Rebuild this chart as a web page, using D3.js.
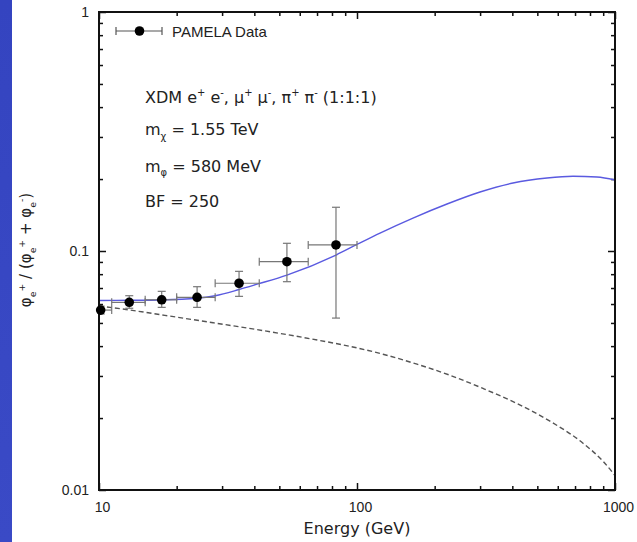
<!DOCTYPE html>
<html>
<head>
<meta charset="utf-8">
<script src="https://cdn.jsdelivr.net/npm/d3@7"></script>
<style>
  html, body { margin: 0; padding: 0; background: #ffffff; }
  svg { display: block; }
  .tick text { font-family: "Liberation Sans", Arial, sans-serif; font-size: 14px; fill: #222; }
  .note { font-family: "DejaVu Sans", Verdana, sans-serif; font-size: 16px; fill: #222; }
  .legend { font-family: "Liberation Sans", Arial, sans-serif; font-size: 15px; fill: #222; }
</style>
</head>
<body>
<div id="chart"></div>
<script>
// PAMELA positron fraction measurements
const energy   = [10.15, 13.1, 17.5, 24.0, 34.9, 53.5, 82.9];
const ratio    = [0.0566, 0.0610, 0.0625, 0.0640, 0.0733, 0.0902, 0.106];
const energyLo = [9.1, 11.2, 15.1, 20.0, 28.2, 41.8, 64.7];
const energyHi = [11.2, 15.1, 20.0, 28.2, 41.8, 64.7, 100];
const ratioLo  = [0.0545, 0.0576, 0.0581, 0.0581, 0.0646, 0.0744, 0.0524];
const ratioHi  = [0.0588, 0.0650, 0.0678, 0.0709, 0.0822, 0.1077, 0.1524];

// XDM model: background + annihilation signal (solid)
const modelEnergy = [10, 13.2, 17.4, 24.0, 28.2, 34.9, 41.3, 53.5, 82.9, 100.8, 122.8, 164.8, 223.3, 299.8, 402.4, 545, 687.6, 851.5, 1000];
const modelRatio  = [0.0621, 0.0622, 0.0624, 0.0634, 0.0650, 0.0690, 0.0728, 0.0793, 0.0962, 0.1070, 0.1189, 0.1374, 0.1573, 0.1766, 0.1925, 0.2020, 0.2054, 0.2040, 0.1982];

// Secondary background only (dashed)
const bgEnergy = [10, 13.2, 18.0, 27.7, 50.3, 71.9, 93.9, 126.1, 170.9, 229.4, 307.9, 417.1, 559.8, 751.6, 898.5, 1000];
const bgRatio  = [0.0589, 0.0566, 0.0538, 0.0501, 0.0452, 0.0422, 0.0399, 0.0370, 0.0336, 0.0302, 0.0266, 0.0230, 0.0194, 0.0157, 0.0132, 0.0115];

// Axis ticks
const xMajor = [10, 100, 1000];
const xMinor = [20, 30, 40, 50, 60, 70, 80, 90, 200, 300, 400, 500, 600, 700, 800, 900];
const yMajor = [0.01, 0.1, 1];
const yMinor = [0.02, 0.03, 0.04, 0.05, 0.06, 0.07, 0.08, 0.09, 0.2, 0.3, 0.4, 0.5, 0.6, 0.7, 0.8, 0.9];

const W = 637, H = 542;
const L = 99, R = 615, T = 12, B = 490;

const svg = d3.select("#chart").append("svg").attr("width", W).attr("height", H);

// slide background strip on the left
const defs = svg.append("defs");
const grad = defs.append("linearGradient")
  .attr("id", "strip").attr("x1", 0).attr("y1", 0).attr("x2", 0).attr("y2", 1);
grad.append("stop").attr("offset", 0).attr("stop-color", "#3444c0");
grad.append("stop").attr("offset", 1).attr("stop-color", "#3a4ac6");
svg.append("rect").attr("x", 0).attr("y", 0).attr("width", 12).attr("height", H).attr("fill", "url(#strip)");

defs.append("clipPath").attr("id", "plotClip")
  .append("rect").attr("x", L).attr("y", T).attr("width", R - L).attr("height", B - T);

const x = d3.scaleLog().domain([10, 1000]).range([L, R]);
const y = d3.scaleLog().domain([0.01, 1]).range([B, T]);

function styleAxis(g) {
  g.select(".domain").remove();
  g.selectAll(".tick line").attr("stroke", "#111").attr("stroke-width", 1.5);
}

// bottom axis
svg.append("g").attr("transform", `translate(0,${B})`)
  .call(d3.axisBottom(x).tickValues(xMajor).tickSize(-7).tickPadding(12).tickFormat(d3.format("d")))
  .call(styleAxis)
  .call(g => g.selectAll(".tick text").attr("dx", 3));
svg.append("g").attr("transform", `translate(0,${B})`)
  .call(d3.axisBottom(x).tickValues(xMinor).tickSize(-4).tickFormat(""))
  .call(styleAxis);
// top axis
svg.append("g").attr("transform", `translate(0,${T})`)
  .call(d3.axisTop(x).tickValues(xMajor).tickSize(-7).tickFormat(""))
  .call(styleAxis);
svg.append("g").attr("transform", `translate(0,${T})`)
  .call(d3.axisTop(x).tickValues(xMinor).tickSize(-4).tickFormat(""))
  .call(styleAxis);
// left axis
svg.append("g").attr("transform", `translate(${L},0)`)
  .call(d3.axisLeft(y).tickValues(yMajor).tickSize(-7).tickPadding(10).tickFormat(d3.format("~g")))
  .call(styleAxis);
svg.append("g").attr("transform", `translate(${L},0)`)
  .call(d3.axisLeft(y).tickValues(yMinor).tickSize(-4).tickFormat(""))
  .call(styleAxis);
// right axis
svg.append("g").attr("transform", `translate(${R},0)`)
  .call(d3.axisRight(y).tickValues(yMajor).tickSize(-7).tickFormat(""))
  .call(styleAxis);
svg.append("g").attr("transform", `translate(${R},0)`)
  .call(d3.axisRight(y).tickValues(yMinor).tickSize(-4).tickFormat(""))
  .call(styleAxis);

// model curves
const line = d3.line().curve(d3.curveMonotoneX);
const plot = svg.append("g").attr("clip-path", "url(#plotClip)");
plot.append("path")
  .attr("d", line(bgEnergy.map((e, i) => [x(e), y(bgRatio[i])])))
  .attr("fill", "none").attr("stroke", "#555").attr("stroke-width", 1.4)
  .attr("stroke-dasharray", "5,3");
plot.append("path")
  .attr("d", line(modelEnergy.map((e, i) => [x(e), y(modelRatio[i])])))
  .attr("fill", "none").attr("stroke", "#5a5ae0").attr("stroke-width", 1.4);

// error bars
const barColor = "#777", cap = 4;
const bars = plot.append("g").attr("stroke", barColor).attr("stroke-width", 1.2);
energy.forEach((e, i) => {
  const cx = x(e), cy = y(ratio[i]);
  const x0 = x(energyLo[i]), x1 = x(energyHi[i]);
  const y0 = y(ratioLo[i]), y1 = y(ratioHi[i]);
  bars.append("line").attr("x1", x0).attr("x2", x1).attr("y1", cy).attr("y2", cy);
  bars.append("line").attr("x1", x0).attr("x2", x0).attr("y1", cy - cap).attr("y2", cy + cap);
  bars.append("line").attr("x1", x1).attr("x2", x1).attr("y1", cy - cap).attr("y2", cy + cap);
  bars.append("line").attr("x1", cx).attr("x2", cx).attr("y1", y0).attr("y2", y1);
  bars.append("line").attr("x1", cx - cap).attr("x2", cx + cap).attr("y1", y0).attr("y2", y0);
  bars.append("line").attr("x1", cx - cap).attr("x2", cx + cap).attr("y1", y1).attr("y2", y1);
});

// frame
svg.append("rect").attr("x", L).attr("y", T).attr("width", R - L).attr("height", B - T)
  .attr("fill", "none").attr("stroke", "#111").attr("stroke-width", 2);

// data points
svg.append("g").selectAll("circle").data(energy).join("circle")
  .attr("cx", d => x(d)).attr("cy", (d, i) => y(ratio[i])).attr("r", 4.8).attr("fill", "#000");

// legend
const lg = svg.append("g").attr("stroke", "#555").attr("stroke-width", 1.2);
lg.append("line").attr("x1", 116).attr("x2", 162).attr("y1", 31).attr("y2", 31);
lg.append("line").attr("x1", 116).attr("x2", 116).attr("y1", 31 - cap).attr("y2", 31 + cap);
lg.append("line").attr("x1", 162).attr("x2", 162).attr("y1", 31 - cap).attr("y2", 31 + cap);
svg.append("circle").attr("cx", 139.5).attr("cy", 31).attr("r", 4.8).attr("fill", "#000");
svg.append("text").attr("class", "legend").attr("x", 172).attr("y", 36.5).text("PAMELA Data");

// rich text with sub/superscripts
function rich(textSel, parts, size) {
  let off = 0;
  parts.forEach(p => {
    const target = p[1] === "sup" ? -0.42 * size : p[1] === "sub" ? 0.3 * size : 0;
    textSel.append("tspan")
      .attr("dy", target - off)
      .attr("font-size", p[1] ? size * 0.62 : size)
      .text(p[0]);
    off = target;
  });
}

const notes = [
  [[["XDM e"], ["+", "sup"], [" e"], ["-", "sup"], [", \u03bc"], ["+", "sup"], [" \u03bc"], ["-", "sup"], [", \u03c0"], ["+", "sup"], [" \u03c0"], ["-", "sup"], [" (1:1:1)"]], 103],
  [[["m"], ["\u03c7", "sub"], [" = 1.55 TeV"]], 135],
  [[["m"], ["\u03c6", "sub"], [" = 580 MeV"]], 171.5],
  [[["BF = 250"]], 206.5]
];
notes.forEach(([parts, yy]) => {
  const t = svg.append("text").attr("class", "note").attr("x", 145).attr("y", yy);
  rich(t, parts, 16);
});

// axis titles
svg.append("text").attr("class", "note").attr("x", 357).attr("y", 534)
  .attr("text-anchor", "middle").attr("font-size", 15).text("Energy (GeV)");

const yt = svg.append("text").attr("class", "note")
  .attr("transform", "translate(31,250) rotate(-90)")
  .attr("text-anchor", "middle");
rich(yt, [["\u03c6"], ["e", "sub"], ["+", "sup"], [" / (\u03c6"], ["e", "sub"], ["+", "sup"], [" + \u03c6"], ["e", "sub"], ["-", "sup"], [")"]], 15);
</script>
</body>
</html>
